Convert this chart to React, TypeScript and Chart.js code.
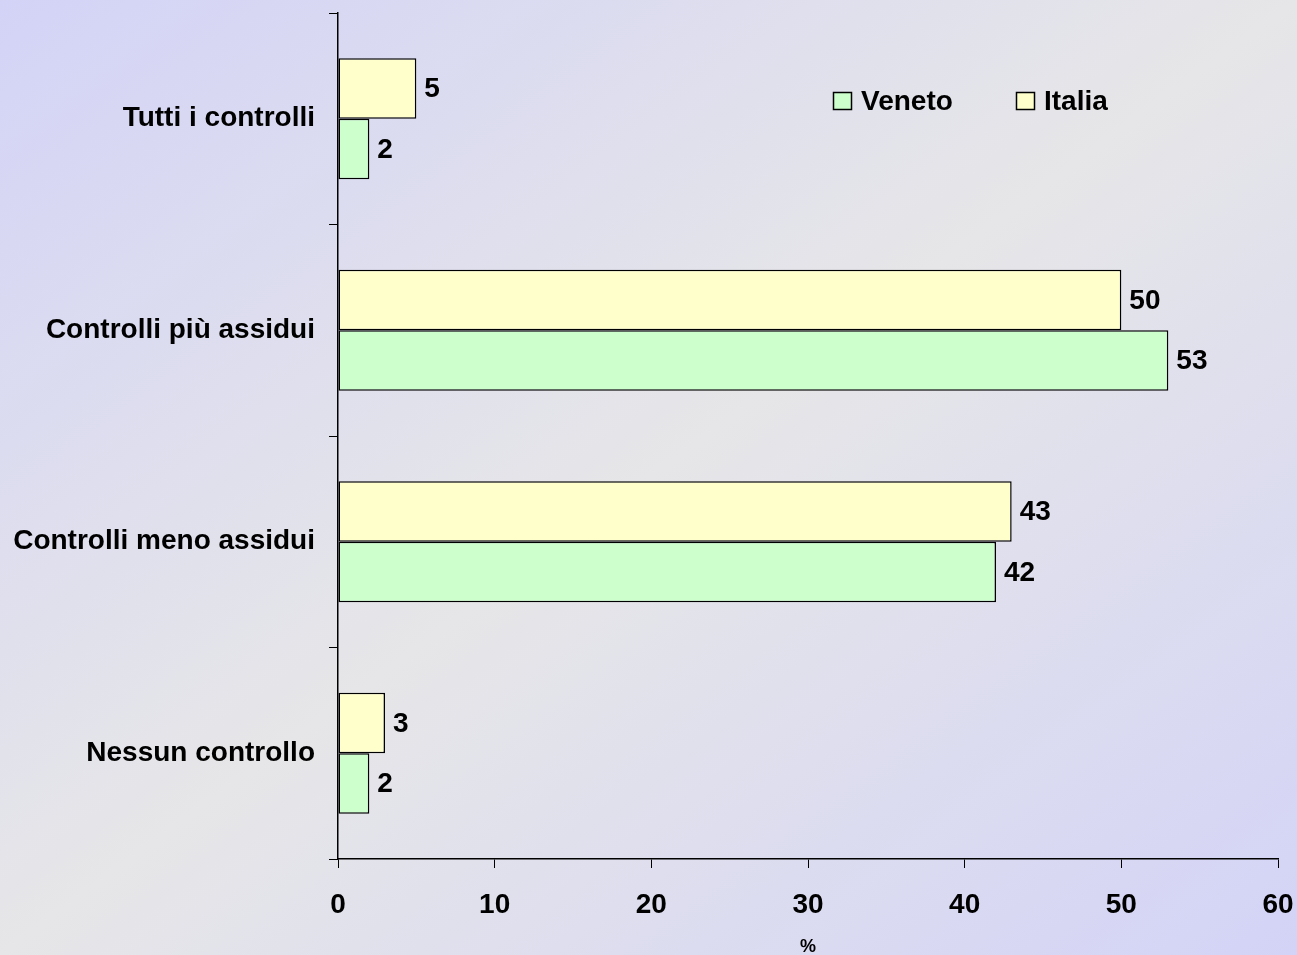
import React, { useEffect, useRef } from "react";
import { Chart, registerables } from "chart.js";

Chart.register(...registerables);

const categories = [
  "Tutti i controlli",
  "Controlli più assidui",
  "Controlli meno assidui",
  "Nessun controllo",
];
const italiaValues = [5, 50, 43, 3];
const venetoValues = [2, 53, 42, 2];
const xTickValues = [0, 10, 20, 30, 40, 50, 60];
const axisTitle = "%";
const legendOrder = ["Veneto", "Italia"];

const FONT = "'Liberation Sans', Arial, Helvetica, sans-serif";
const FS = 28;
const W = 1297;
const H = 955;

const valueLabelPlugin = {
  id: "valueLabels",
  afterDatasetsDraw(chart: any) {
    const ctx = chart.ctx;
    ctx.save();
    ctx.font = `bold ${FS}px ${FONT}`;
    ctx.fillStyle = "#000";
    ctx.textAlign = "left";
    ctx.textBaseline = "middle";
    chart.data.datasets.forEach((ds: any, di: number) => {
      const meta = chart.getDatasetMeta(di);
      meta.data.forEach((el: any, i: number) => {
        ctx.fillText(String(ds.data[i]), el.x + 8, el.y + 1);
      });
    });
    ctx.restore();
  },
};

const customLegendPlugin = {
  id: "customLegend",
  afterDraw(chart: any) {
    const ctx = chart.ctx;
    ctx.save();
    ctx.font = `bold ${FS}px ${FONT}`;
    ctx.textAlign = "left";
    ctx.textBaseline = "middle";
    const positions = [833, 1016];
    const cy = 101;
    legendOrder.forEach((name, k) => {
      const ds = chart.data.datasets.find((d: any) => d.label === name);
      if (!ds) return;
      const x = positions[k];
      ctx.fillStyle = ds.backgroundColor;
      ctx.fillRect(x + 0.5, cy - 8.5, 18, 17);
      ctx.strokeStyle = "#000";
      ctx.lineWidth = 1.5;
      ctx.strokeRect(x + 0.5, cy - 8.5, 18, 17);
      ctx.fillStyle = "#000";
      ctx.fillText(name, x + 28, cy + 1);
    });
    ctx.restore();
  },
};

export default function App() {
  const canvasRef = useRef<HTMLCanvasElement | null>(null);

  useEffect(() => {
    if (!canvasRef.current) return;
    const chart = new Chart(canvasRef.current, {
      type: "bar",
      data: {
        labels: categories,
        datasets: [
          {
            label: "Italia",
            data: italiaValues,
            backgroundColor: "#ffffcc",
            borderColor: "#000",
            borderWidth: 1.5,
            borderSkipped: false,
            categoryPercentage: 0.572,
            barPercentage: 1,
          },
          {
            label: "Veneto",
            data: venetoValues,
            backgroundColor: "#ccffcc",
            borderColor: "#000",
            borderWidth: 1.5,
            borderSkipped: false,
            categoryPercentage: 0.572,
            barPercentage: 1,
          },
        ],
      },
      options: {
        indexAxis: "y",
        responsive: false,
        animation: false,
        devicePixelRatio: 1,
        layout: { padding: { top: 13, right: 19, bottom: 0, left: 0 } },
        plugins: {
          legend: { display: false },
          tooltip: { enabled: false },
        },
        scales: {
          x: {
            type: "linear",
            min: xTickValues[0],
            max: xTickValues[xTickValues.length - 1],
            afterBuildTicks: (scale: any) => {
              scale.ticks = xTickValues.map((v) => ({ value: v }));
            },
            afterFit: (scale: any) => {
              scale.height = 96;
              scale.paddingLeft = 0;
              scale.paddingRight = 0;
            },
            grid: {
              drawOnChartArea: false,
              drawTicks: true,
              tickLength: 9,
              color: "#000",
            },
            border: { display: true, color: "#000", width: 1.5 },
            ticks: {
              color: "#000",
              padding: 20,
              font: { family: FONT, size: FS, weight: "bold" },
              maxRotation: 0,
            },
            title: {
              display: true,
              text: axisTitle,
              color: "#000",
              font: { family: FONT, size: 18, weight: "bold" },
              padding: { top: 0, bottom: -3 },
            },
          },
          y: {
            type: "category",
            offset: true,
            afterFit: (scale: any) => {
              scale.width = 338;
              scale.paddingTop = 0;
              scale.paddingBottom = 0;
            },
            grid: {
              offset: true,
              drawOnChartArea: false,
              drawTicks: true,
              tickLength: 9,
              color: "#000",
            },
            border: { display: true, color: "#000", width: 1.5 },
            ticks: {
              color: "#000",
              padding: 14,
              font: { family: FONT, size: FS, weight: "bold" },
            },
          },
        },
      },
      plugins: [valueLabelPlugin, customLegendPlugin],
    } as any);
    return () => chart.destroy();
  }, []);

  return (
    <div
      style={{
        position: "absolute",
        left: 0,
        top: 0,
        width: W,
        height: H,
        overflow: "hidden",
        background:
          "linear-gradient(to bottom right, #d3d3f7 0%, #e6e6e8 50%, #d3d3f7 100%)",
      }}
    >
      <canvas
        ref={canvasRef}
        width={W}
        height={H}
        style={{ display: "block", width: W, height: H }}
      />
    </div>
  );
}
